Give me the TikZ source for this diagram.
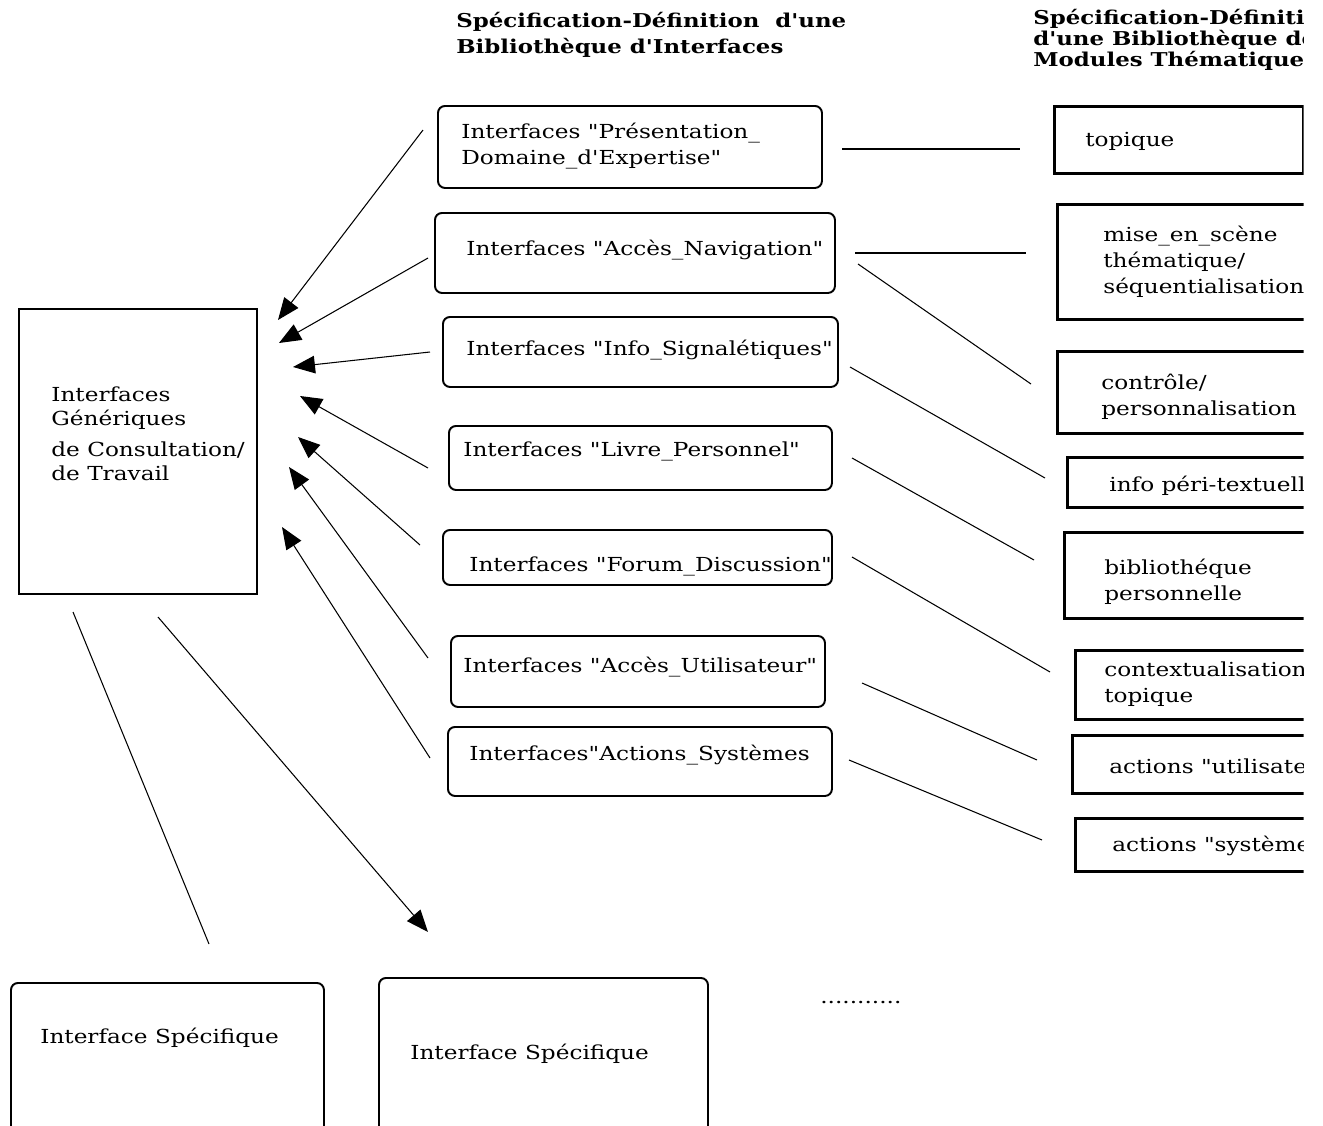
\documentclass[tikz,border=0pt]{standalone}
\usepackage{fontspec}
\newfontfamily\dvs{DejaVu Serif}[FakeStretch=1.2]
\usetikzlibrary{arrows.meta}
\newcommand{\pxu}{0.02cm}

\tikzset{
  ibox/.style={draw, line width=1.1pt, rounded corners=4pt, anchor=north west, inner sep=0pt},
  mbox/.style={draw, line width=1.6pt, anchor=north west, inner sep=0pt},
  lbl/.style={anchor=west, align=left, inner sep=0pt, font=\dvs\fontsize{11}{14.7}\selectfont},
  head/.style={anchor=west, align=left, inner sep=0pt, font=\dvs\bfseries\fontsize{10.85}{10}\selectfont},
  link/.style={line width=0.6pt},
  arr/.style={line width=0.6pt, -{Triangle[length=12.5pt,width=10pt]}},
}

\begin{document}
\begin{tikzpicture}[x=0.02cm, y=-0.02cm]
  \useasboundingbox (0,0) rectangle (1323,1126);
  \begin{scope}
  \clip (0,0) rectangle (1303.5,1126);

  % headers
  \node[head, font=\dvs\bfseries\fontsize{10.85}{14.7}\selectfont] (hleft) at (456,35) {Spécification-Définition \ d'une\\Bibliothèque d'Interfaces};
  \node[head] (hright) at (1033,40) {Spécification-Définition\\d'une Bibliothèque de\\Modules Thématiques};

  % generic box
  \node[draw, line width=1.4pt, anchor=north west, inner sep=0pt,
        minimum width=238*\pxu, minimum height=285*\pxu] (gen) at (18,308) {};
  \node[lbl, font=\dvs\fontsize{11}{13.6}\selectfont] (genT) at (51,434) {Interfaces\\Génériques\\[4pt]de Consultation/\\de Travail};

  % interface library
  \node[ibox, minimum width=384*\pxu, minimum height=82*\pxu] (pres) at (437,105) {};
  \node[ibox, minimum width=400*\pxu, minimum height=80*\pxu] (navig) at (434,212) {};
  \node[ibox, minimum width=395*\pxu, minimum height=70*\pxu] (info) at (442,316) {};
  \node[ibox, minimum width=383*\pxu, minimum height=64*\pxu] (livre) at (448,425) {};
  \node[ibox, minimum width=389*\pxu, minimum height=55*\pxu] (forum) at (442,529) {};
  \node[ibox, minimum width=374*\pxu, minimum height=71*\pxu] (acces) at (450,635) {};
  \node[ibox, minimum width=384*\pxu, minimum height=69*\pxu] (actsys) at (447,726) {};

  \node[lbl] (presT) at (461,146) {Interfaces "Présentation\_\\Domaine\_d'Expertise"};
  \node[lbl] (navigT) at (466,250) {Interfaces "Accès\_Navigation"};
  \node[lbl] (infoT) at (466,350) {Interfaces "Info\_Signalétiques"};
  \node[lbl] (livreT) at (463,451) {Interfaces "Livre\_Personnel"};
  \node[lbl] (forumT) at (469,566) {Interfaces "Forum\_Discussion"};
  \node[lbl] (accesT) at (463,667) {Interfaces "Accès\_Utilisateur"};
  \node[lbl] (actsysT) at (469,755) {Interfaces"Actions\_Systèmes};

  % thematic modules
  \node[mbox, minimum width=249*\pxu, minimum height=67*\pxu] (topique) at (1053,105) {};
  \node[mbox, minimum width=300*\pxu, minimum height=115*\pxu] (scene) at (1056,203) {};
  \node[mbox, minimum width=300*\pxu, minimum height=82*\pxu] (ctrl) at (1056,350) {};
  \node[mbox, minimum width=300*\pxu, minimum height=50*\pxu] (peri) at (1066,456) {};
  \node[mbox, minimum width=300*\pxu, minimum height=86*\pxu] (perso) at (1063,531) {};
  \node[mbox, minimum width=300*\pxu, minimum height=69*\pxu] (ctx) at (1074,649) {};
  \node[mbox, minimum width=300*\pxu, minimum height=58*\pxu] (actu) at (1071,734) {};
  \node[mbox, minimum width=300*\pxu, minimum height=53*\pxu] (acts) at (1074,817) {};

  \node[lbl] (topiqueT) at (1085,141) {topique};
  \node[lbl] (sceneT) at (1103,262) {mise\_en\_scène\\thématique/\\séquentialisation};
  \node[lbl] (ctrlT) at (1101,397) {contrôle/\\personnalisation};
  \node[lbl] (periT) at (1109,486) {info péri-textuelle};
  \node[lbl] (persoT) at (1104,582) {bibliothéque\\personnelle};
  \node[lbl] (ctxT) at (1104,684) {contextualisation\\topique};
  \node[lbl] (actuT) at (1109,766) {actions "utilisateur"};
  \node[lbl] (actsT) at (1112,846) {actions "système"};

  % specific interfaces
  \node[ibox, minimum width=313*\pxu, minimum height=160*\pxu] (spec1) at (10,982) {};
  \node[ibox, minimum width=329*\pxu, minimum height=170*\pxu] (spec2) at (378,977) {};
  \node[lbl] (spec1T) at (40,1038) {Interface Spécifique};
  \node[lbl] (spec2T) at (410,1054) {Interface Spécifique};
  \node[lbl] (dots) at (820,1003) {...........};

  % connector ends
  \coordinate (a1) at (423,130);  \coordinate (g1) at (278,320);
  \coordinate (a2) at (428,258);  \coordinate (g2) at (279,343);
  \coordinate (a3) at (430,352);  \coordinate (g3) at (293,367);
  \coordinate (a4) at (428,468);  \coordinate (g4) at (300,396);
  \coordinate (a5) at (420,545);  \coordinate (g5) at (298,437);
  \coordinate (a6) at (428,658);  \coordinate (g6) at (289,467);
  \coordinate (a7) at (430,758);  \coordinate (g7) at (282,527);

  \coordinate (r1) at (842,149);  \coordinate (m1) at (1020,149);
  \coordinate (r2) at (855,253);  \coordinate (m2) at (1026,253);
  \coordinate (r3) at (858,264);  \coordinate (m3) at (1031,384);
  \coordinate (r4) at (850,367);  \coordinate (m4) at (1045,478);
  \coordinate (r5) at (852,458);  \coordinate (m5) at (1034,560);
  \coordinate (r6) at (852,557);  \coordinate (m6) at (1050,672);
  \coordinate (r7) at (862,683);  \coordinate (m7) at (1037,760);
  \coordinate (r8) at (849,760);  \coordinate (m8) at (1042,840);

  \coordinate (s1) at (73,612);   \coordinate (t1) at (209,944);
  \coordinate (s2) at (158,617);  \coordinate (t2) at (428,932);

  % arrows to the generic interfaces
  \draw[arr] (a1) -- (g1);
  \draw[arr] (a2) -- (g2);
  \draw[arr] (a3) -- (g3);
  \draw[arr] (a4) -- (g4);
  \draw[arr] (a5) -- (g5);
  \draw[arr] (a6) -- (g6);
  \draw[arr] (a7) -- (g7);

  % links to the modules
  \draw[link] (r1) -- (m1);
  \draw[link] (r2) -- (m2);
  \draw[link] (r3) -- (m3);
  \draw[link] (r4) -- (m4);
  \draw[link] (r5) -- (m5);
  \draw[link] (r6) -- (m6);
  \draw[link] (r7) -- (m7);
  \draw[link] (r8) -- (m8);

  \draw[link] (s1) -- (t1);
  \draw[arr] (s2) -- (t2);
  \end{scope}
\end{tikzpicture}
\end{document}
